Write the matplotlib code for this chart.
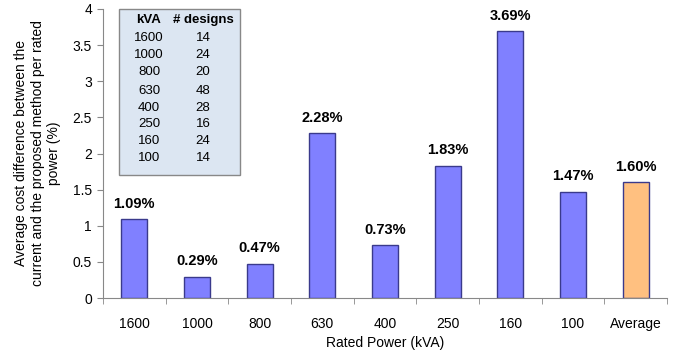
import matplotlib
matplotlib.use("Agg")
import matplotlib.pyplot as plt
from matplotlib.patches import Rectangle

categories = ["1600", "1000", "800", "630", "400", "250", "160", "100", "Average"]
values = [1.09, 0.29, 0.47, 2.28, 0.73, 1.83, 3.69, 1.47, 1.60]
bar_labels = ["1.09%", "0.29%", "0.47%", "2.28%", "0.73%", "1.83%", "3.69%", "1.47%", "1.60%"]
table_kva = ["1600", "1000", "800", "630", "400", "250", "160", "100"]
table_designs = ["14", "24", "20", "48", "28", "16", "24", "14"]

plt.rcParams['font.family'] = ['Liberation Sans', 'DejaVu Sans']

fig = plt.figure(figsize=(6.85, 3.54), dpi=100)
ax = fig.add_axes([103/685, 1-298/354, 564/685, 289/354])

x = list(range(len(categories)))
colors = ["#8080FF"] * 8 + ["#FFC080"]
ax.bar(x, values, width=0.42, color=colors, edgecolor="#3A3A8C", linewidth=1.0, zorder=2)
for xi, v, lab in zip(x, values, bar_labels):
    ax.text(xi, v + 0.12, lab, ha="center", va="bottom", fontsize=10.5, fontweight="bold")

ax.set_xlim(-0.5, len(categories) - 0.5)
ax.set_ylim(0, 4)
ax.set_yticks([0, 0.5, 1, 1.5, 2, 2.5, 3, 3.5, 4])
ax.set_yticklabels(["0", "0.5", "1", "1.5", "2", "2.5", "3", "3.5", "4"])
ax.set_xticks(x)
ax.set_xticklabels(categories)
ax.set_xticks([i + 0.5 for i in range(-1, len(categories))], minor=True)
ax.tick_params(axis="x", which="major", length=0, pad=14, labelsize=10)
ax.tick_params(axis="x", which="minor", length=4, color="#888888")
ax.tick_params(axis="y", length=4, color="#888888", labelsize=10, pad=4)
for s in ["top", "right"]:
    ax.spines[s].set_visible(False)
for s in ["left", "bottom"]:
    ax.spines[s].set_color("#888888")
    ax.spines[s].set_linewidth(0.8)

ax.set_xlabel("Rated Power (kVA)", fontsize=10, labelpad=3)
ax.set_ylabel("Average cost difference between the\ncurrent and the proposed method per rated\npower (%)",
              fontsize=10, labelpad=8, linespacing=1.25)

# inset table
W, H = 685, 354
def fx(px): return px / W
def fy(py): return 1 - py / H
fig.patches.append(Rectangle((fx(119), fy(175)), fx(240) - fx(119), fy(9) - fy(175),
                             transform=fig.transFigure, facecolor="#DCE6F2",
                             edgecolor="#888888", linewidth=1.0, zorder=3))
fig.text(fx(149), fy(20), "kVA", ha="center", va="center", fontsize=9.5, fontweight="bold", zorder=4)
fig.text(fx(203), fy(20), "# designs", ha="center", va="center", fontsize=9.5, fontweight="bold", zorder=4)
row_y = [38, 55, 72, 91, 108, 124, 141, 158]
for yy, k, d in zip(row_y, table_kva, table_designs):
    fig.text(fx(149), fy(yy), k, ha="center", va="center", fontsize=9.5, zorder=4)
    fig.text(fx(203), fy(yy), d, ha="center", va="center", fontsize=9.5, zorder=4)

fig.savefig("out.png", dpi=100)
